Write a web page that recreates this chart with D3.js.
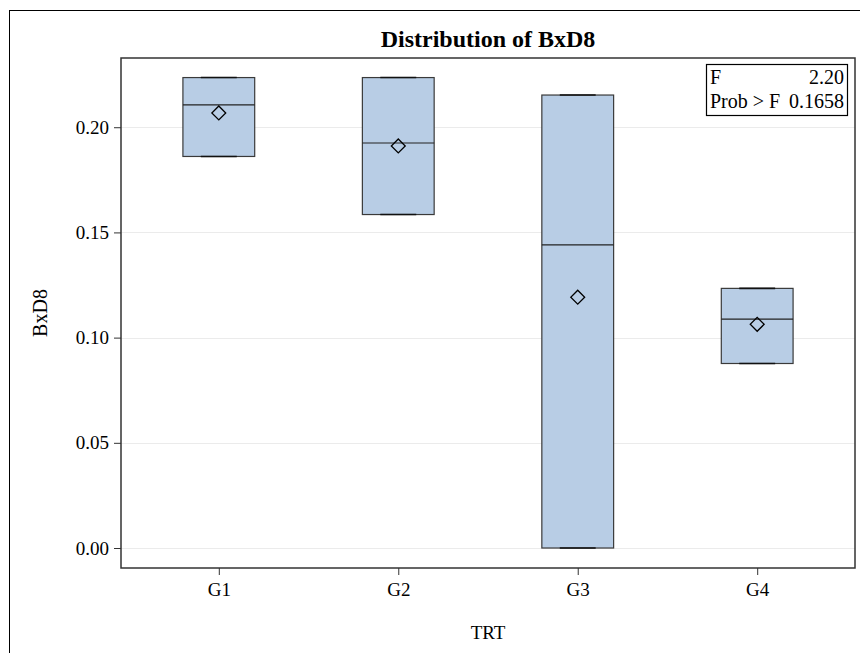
<!DOCTYPE html>
<html><head><meta charset="utf-8">
<script src="https://cdn.jsdelivr.net/npm/d3@7"></script>
<style>body{margin:0;background:#fff}svg{display:block}text{font-family:"Liberation Serif","Times New Roman",serif;fill:#000}</style>
</head><body><svg id="c" width="860" height="653"></svg>
<script>
const categories = ["G1","G2","G3","G4"];
const q1     = [0.1861, 0.1585, 0.0000, 0.0877];
const median = [0.2106, 0.1925, 0.1441, 0.1088];
const q3     = [0.2236, 0.2236, 0.2153, 0.1234];
const mean   = [0.2068, 0.1911, 0.1192, 0.1063];
const minV   = [0.1861, 0.1585, 0.0000, 0.0877];
const maxV   = [0.2236, 0.2236, 0.2153, 0.1234];
const yTicks = [0.00, 0.05, 0.10, 0.15, 0.20];
const insetRows = [["F","2.20"],["Prob > F","0.1658"]];
const title = "Distribution of BxD8", xTitle = "TRT", yTitle = "BxD8";

const svg = d3.select("#c");
const L=121, R=855, T=58, B=568;
const x = d3.scalePoint().domain(categories).range([L,R]).padding(0.545);
const y = d3.scaleLinear().domain([-0.0095, 0.2329]).range([B,T]);
const bw = x.step()*0.4;

// outer frame
svg.append("rect").attr("x",9.5).attr("y",10.5).attr("width",900).attr("height",700)
  .attr("fill","none").attr("stroke","#000").attr("stroke-width",1);

// gridlines
svg.append("g").selectAll("line").data(yTicks).join("line")
  .attr("x1",L).attr("x2",R).attr("y1",d=>Math.round(y(d))+0.5).attr("y2",d=>Math.round(y(d))+0.5)
  .attr("stroke","#ebebeb").attr("stroke-width",1);

const data = categories.map((c,i)=>({c,q1:q1[i],med:median[i],q3:q3[i],mean:mean[i],min:minV[i],max:maxV[i]}));
const g = svg.append("g");
const boxes = g.selectAll("g").data(data).join("g");
boxes.append("rect").attr("x",d=>x(d.c)-bw/2).attr("width",bw)
  .attr("y",d=>y(d.q3)).attr("height",d=>y(d.q1)-y(d.q3))
  .attr("fill","#b8cde5").attr("stroke","#3a3a3a").attr("stroke-width",1.2);
boxes.append("line").attr("x1",d=>x(d.c)-bw/2).attr("x2",d=>x(d.c)+bw/2)
  .attr("y1",d=>y(d.med)).attr("y2",d=>y(d.med)).attr("stroke","#222").attr("stroke-width",1.2);
boxes.selectAll(".cap").data(d=>[{c:d.c,v:d.min},{c:d.c,v:d.max}]).join("line").attr("class","cap")
  .attr("x1",d=>x(d.c)-bw/4).attr("x2",d=>x(d.c)+bw/4)
  .attr("y1",d=>y(d.v)).attr("y2",d=>y(d.v)).attr("stroke","#111").attr("stroke-width",1.6);
boxes.append("path").attr("d",d3.symbol(d3.symbolSquare, 96))
  .attr("transform",d=>`translate(${x(d.c)},${y(d.mean)}) rotate(45)`)
  .attr("fill","none").attr("stroke","#000").attr("stroke-width",1.3);

// plot frame
svg.append("rect").attr("x",L).attr("y",T).attr("width",R-L).attr("height",B-T)
  .attr("fill","none").attr("stroke","#333").attr("stroke-width",1.5);

// axes
const ya = svg.append("g").attr("transform",`translate(${L},0)`)
  .call(d3.axisLeft(y).tickValues(yTicks).tickFormat(d3.format(".2f")).tickSize(7).tickPadding(5));
ya.select(".domain").remove();
ya.selectAll("text").attr("font-size",19).attr("font-family","Liberation Serif");
ya.selectAll("line").attr("stroke","#333");
const xa = svg.append("g").attr("transform",`translate(0,${B})`)
  .call(d3.axisBottom(x).tickSize(7).tickPadding(8));
xa.select(".domain").remove();
xa.selectAll("text").attr("font-size",19).attr("font-family","Liberation Serif");
xa.selectAll("line").attr("stroke","#333");

svg.append("text").attr("x",(L+R)/2).attr("y",47).attr("text-anchor","middle")
  .attr("font-size",24).attr("font-weight","bold").text(title);
svg.append("text").attr("x",(L+R)/2).attr("y",639).attr("text-anchor","middle")
  .attr("font-size",19).text(xTitle);
svg.append("text").attr("transform",`translate(47,${(T+B)/2}) rotate(-90)`).attr("text-anchor","middle")
  .attr("font-size",20).text(yTitle);

// inset
const ix=706, iy=64, iw=141, ih=51;
svg.append("rect").attr("x",ix+0.5).attr("y",iy+0.5).attr("width",iw).attr("height",ih)
  .attr("fill","#fff").attr("stroke","#000").attr("stroke-width",1.2);
const rows = svg.append("g").selectAll("g").data(insetRows).join("g");
rows.append("text").attr("x",ix+4).attr("y",(d,i)=>iy+20+i*24).attr("font-size",20).text(d=>d[0]);
rows.append("text").attr("x",ix+iw-3).attr("y",(d,i)=>iy+20+i*24).attr("text-anchor","end").attr("font-size",20).text(d=>d[1]);
</script></body></html>
